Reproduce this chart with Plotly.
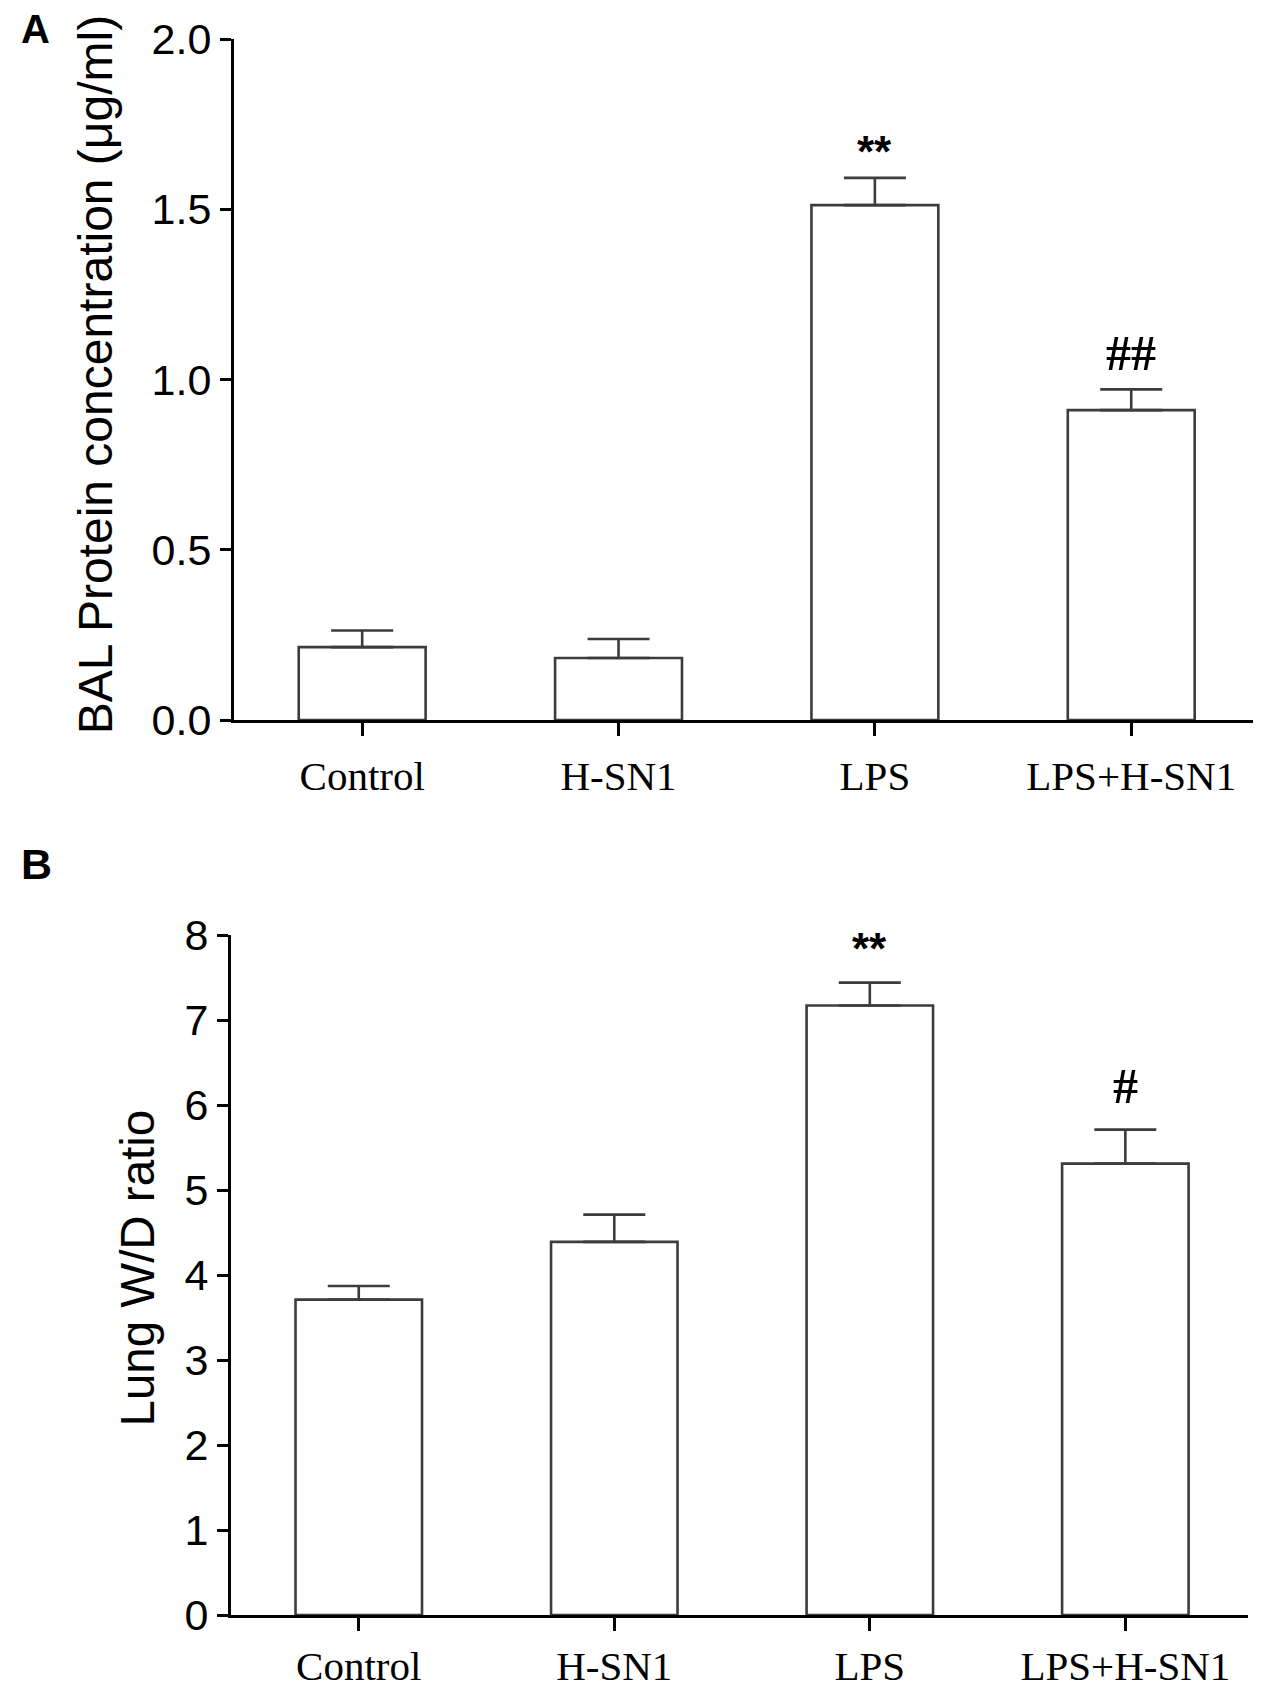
import plotly.graph_objects as go

# groups shared by both panels
groups = ["Control", "H-SN1", "LPS", "LPS+H-SN1"]

# A: BAL protein concentration (ug/ml), mean and upper error
bal_mean = [0.214, 0.182, 1.512, 0.910]
bal_err = [0.049, 0.056, 0.080, 0.061]
bal_sig = ["", "", "**", "##"]

# B: lung wet/dry weight ratio
wd_mean = [3.71, 4.39, 7.17, 5.31]
wd_err = [0.16, 0.32, 0.27, 0.40]
wd_sig = ["", "", "**", "#"]

W, H = 1267, 1688
OFF = 8  # the page body margin pushes the figure down/right by this much
EDGE = "#3c3c3c"
SANS = "Liberation Sans, Arial, sans-serif"
SERIF = "Liberation Serif, Times New Roman, serif"


def px_x(v):
    return (v - OFF) / W


def px_y(v):
    return 1 - (v - OFF) / H


fig = go.Figure()


def add_panel(means, errs, sig, xa, ya, shift):
    fig.add_trace(go.Bar(
        x=groups, y=means, xaxis=xa, yaxis=ya,
        marker=dict(color="white", line=dict(color=EDGE, width=2.6)),
        error_y=dict(type="data", symmetric=False, array=errs,
                     arrayminus=[0] * len(errs), color=EDGE,
                     thickness=2.6, width=31),
        showlegend=False, hoverinfo="skip"))
    for g, m, e, s in zip(groups, means, errs, sig):
        if not s:
            continue
        star = s.startswith("*")
        fig.add_annotation(
            x=g, y=m + e, xref=xa, yref=ya, text=s, showarrow=False,
            xanchor="center", yanchor="middle",
            yshift=shift - 10 if star else shift,
            font=dict(family=SANS if star else SERIF, size=44 if star else 50,
                      color="black", weight="bold"))


add_panel(bal_mean, bal_err, bal_sig, "x", "y", 36)
add_panel(wd_mean, wd_err, wd_sig, "x2", "y2", 44)

xcommon = dict(type="category", range=[-0.5, 3.5], showline=True,
               linecolor="black", linewidth=3, ticks="outside", ticklen=13,
               tickwidth=3, tickcolor="black", showgrid=False, zeroline=False,
               automargin=False, ticklabeloverflow="allow",
               tickfont=dict(family=SERIF, size=41, color="black"))
ycommon = dict(showline=True, linecolor="black", linewidth=3, ticks="outside",
               ticklen=11, tickwidth=3, tickcolor="black", showgrid=False,
               zeroline=False, automargin=False, ticklabeloverflow="allow",
               ticklabelstandoff=0)

fig.update_layout(
    width=W, height=H,
    margin=dict(l=0, r=0, t=0, b=0, autoexpand=False),
    paper_bgcolor="white", plot_bgcolor="white",
    bargap=0.505,
    xaxis=dict(xcommon, domain=[px_x(234), px_x(1253)], anchor="y",
               range=[-0.5, 3.475], ticklabelstandoff=5),
    yaxis=dict(ycommon, domain=[px_y(720), px_y(39)], anchor="x",
               range=[0, 2], dtick=0.5, tickformat=".1f",
               tickfont=dict(family=SANS, size=43, color="black")),
    xaxis2=dict(xcommon, domain=[px_x(231), px_x(1248)], anchor="y2",
                range=[-0.5, 3.48], ticklabelstandoff=0),
    yaxis2=dict(ycommon, domain=[px_y(1615), px_y(935)], anchor="x2",
                range=[0, 8], dtick=1,
                tickfont=dict(family=SANS, size=43, color="black")),
)

# panel letters (positioned by the bottom of their text box)
for letter, size, base in [("A", 40, 44), ("B", 43, 880)]:
    fig.add_annotation(x=px_x(19), y=px_y(base + 0.212 * size + 1),
                       xref="paper", yref="paper", text=letter, showarrow=False,
                       xanchor="left", yanchor="bottom",
                       font=dict(family=SANS, size=size, color="black",
                                 weight="bold"))

# rotated axis titles, centred on their text box
for title, size, base_x, mid_y in [
        ("BAL Protein concentration (μg/ml)", 48, 112, 374),
        ("Lung W/D ratio", 47.5, 153, 1268)]:
    fig.add_annotation(x=px_x(base_x - 0.3465 * size), y=px_y(mid_y),
                       xref="paper", yref="paper", text=title, textangle=-90,
                       showarrow=False, xanchor="center", yanchor="middle",
                       font=dict(family=SANS, size=size, color="black"))

fig.write_html("out.html")
